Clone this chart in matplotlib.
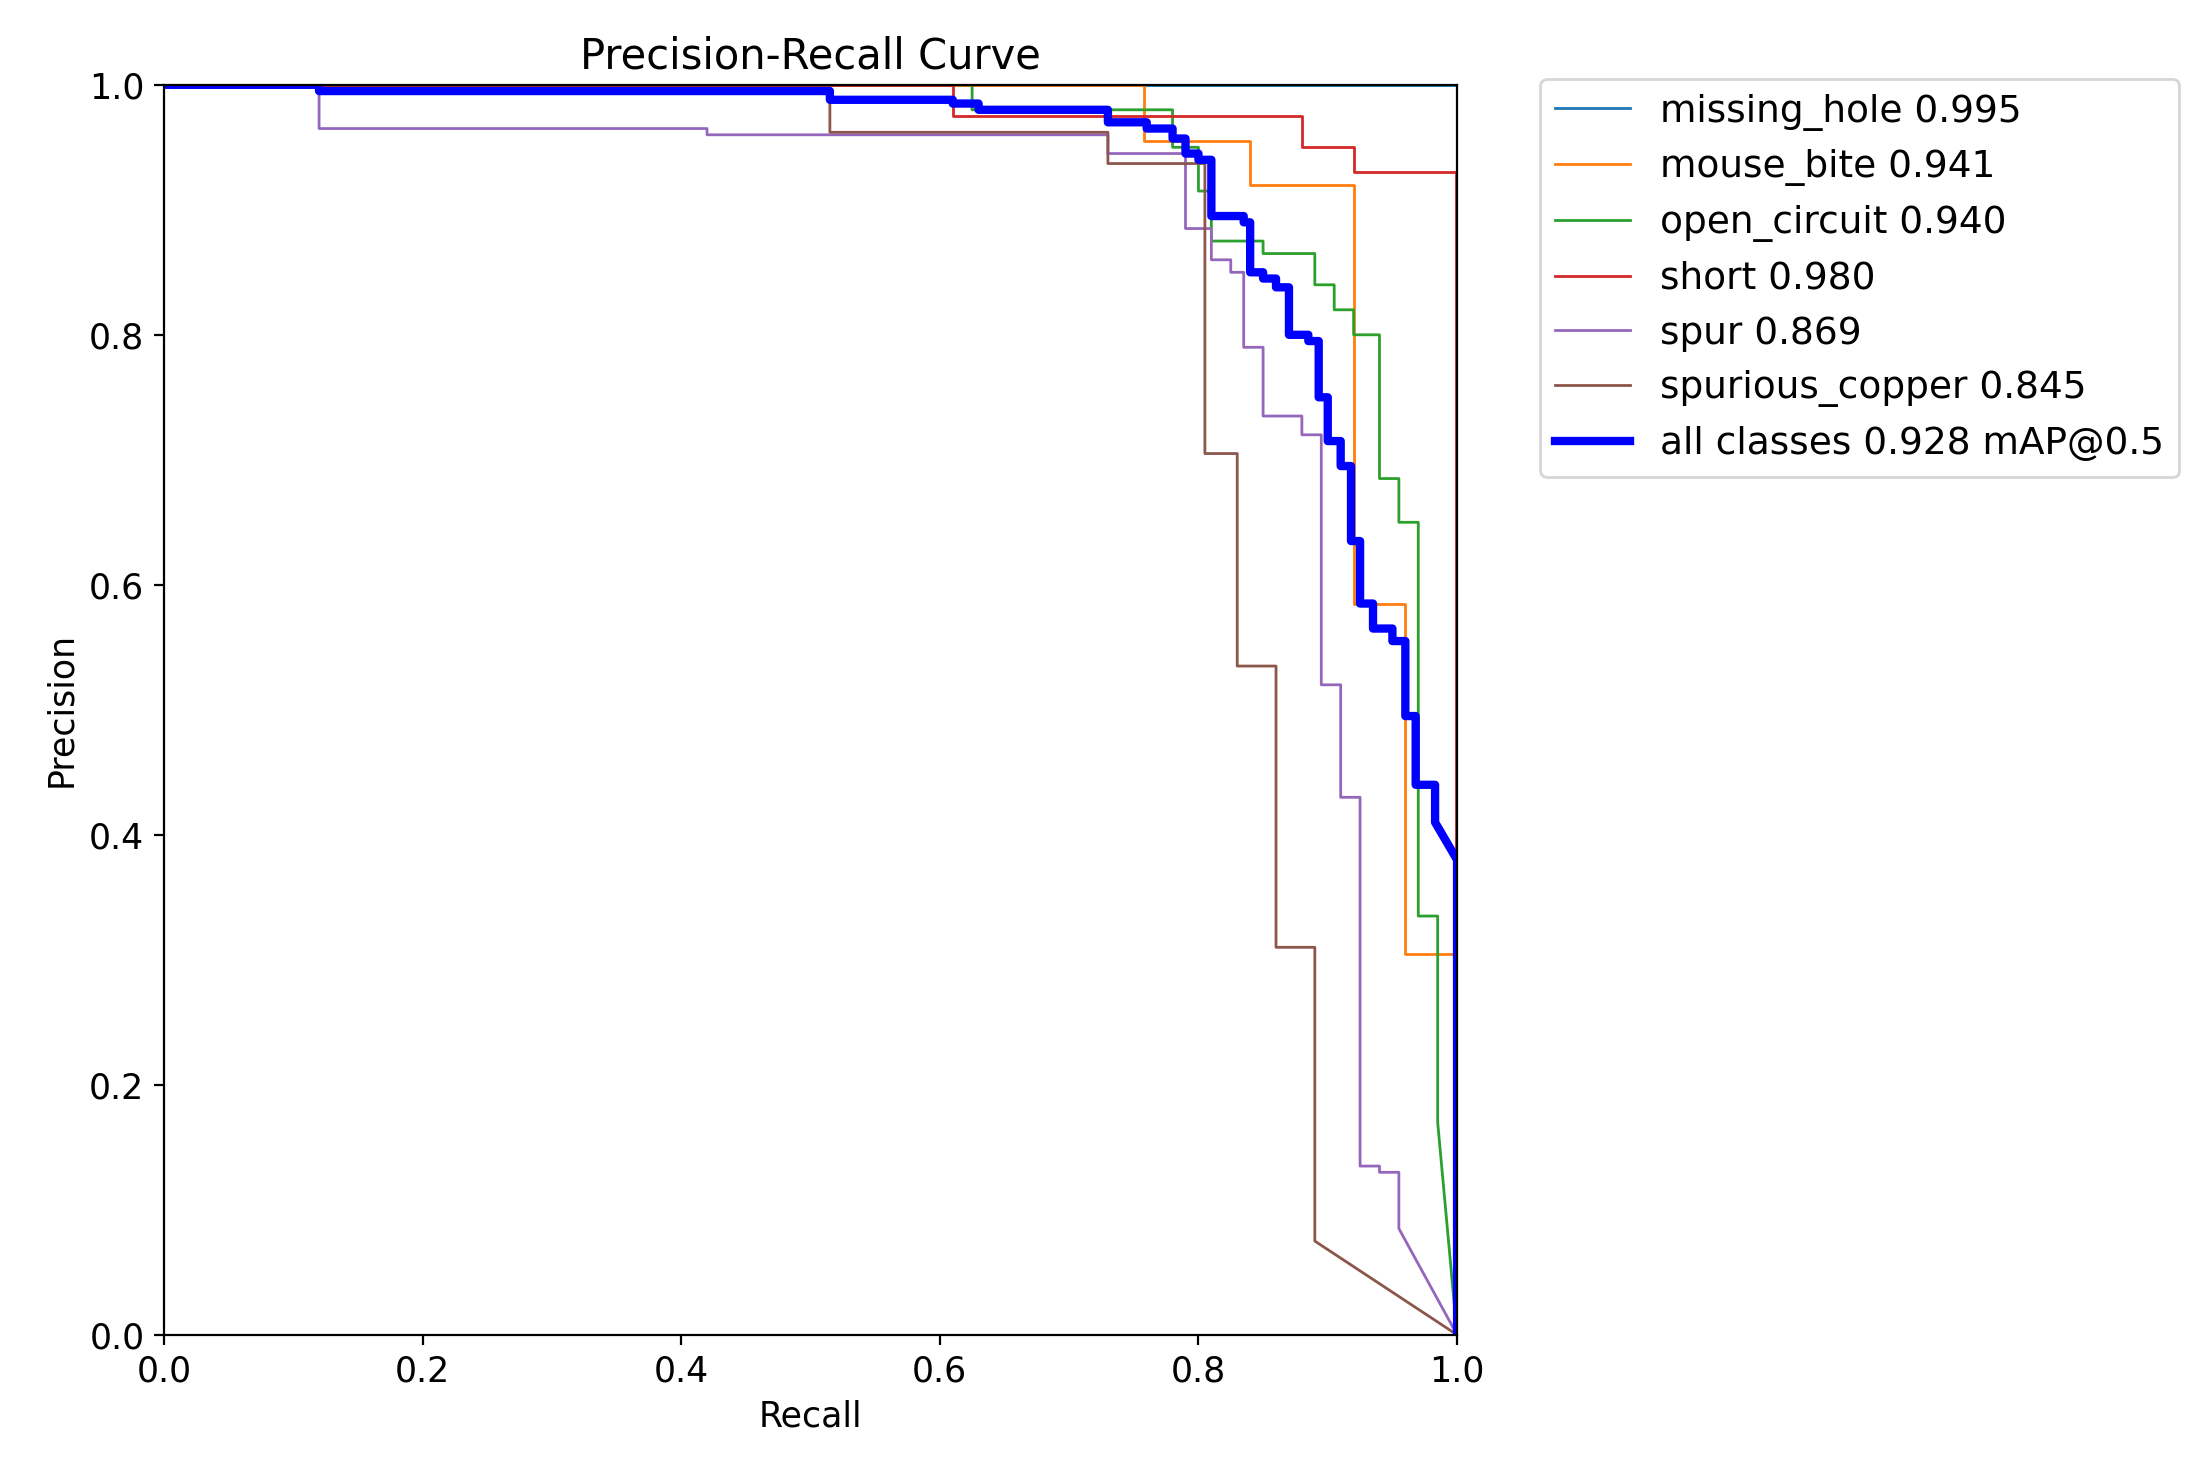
import matplotlib
matplotlib.use("Agg")
import matplotlib.pyplot as plt

# vertices (recall, precision)
missing_hole_r = [0.0, 1.0, 1.0, 1.0]
missing_hole_p = [1.0, 1.0, 0.93, 0.0]

mouse_bite_r = [0.0, 0.758, 0.758, 0.84, 0.84, 0.92, 0.92, 0.96, 0.96, 1.0, 1.0]
mouse_bite_p = [1.0, 1.0, 0.955, 0.955, 0.92, 0.92, 0.585, 0.585, 0.305, 0.305, 0.0]

open_circuit_r = [0.0, 0.625, 0.625, 0.78, 0.78, 0.8, 0.8, 0.81, 0.81, 0.85, 0.85, 0.89, 0.89,
                  0.905, 0.905, 0.92, 0.92, 0.94, 0.94, 0.955, 0.955, 0.97, 0.97, 0.985, 0.985, 1.0]
open_circuit_p = [1.0, 1.0, 0.98, 0.98, 0.95, 0.95, 0.915, 0.915, 0.875, 0.875, 0.865, 0.865, 0.84,
                  0.84, 0.82, 0.82, 0.80, 0.80, 0.685, 0.685, 0.65, 0.65, 0.335, 0.335, 0.17, 0.0]

short_r = [0.0, 0.61, 0.61, 0.88, 0.88, 0.92, 0.92, 0.999, 0.999]
short_p = [1.0, 1.0, 0.975, 0.975, 0.95, 0.95, 0.93, 0.93, 0.0]

spur_r = [0.0, 0.12, 0.12, 0.42, 0.42, 0.73, 0.73, 0.79, 0.79, 0.81, 0.81, 0.825, 0.825, 0.835,
          0.835, 0.85, 0.85, 0.88, 0.88, 0.895, 0.895, 0.91, 0.91, 0.925, 0.925, 0.94, 0.94,
          0.955, 0.955, 1.0]
spur_p = [1.0, 1.0, 0.965, 0.965, 0.96, 0.96, 0.945, 0.945, 0.885, 0.885, 0.86, 0.86, 0.85, 0.85,
          0.79, 0.79, 0.735, 0.735, 0.72, 0.72, 0.52, 0.52, 0.43, 0.43, 0.135, 0.135, 0.13,
          0.13, 0.085, 0.0]

copper_r = [0.0, 0.515, 0.515, 0.73, 0.73, 0.805, 0.805, 0.83, 0.83, 0.86, 0.86, 0.89, 0.89, 1.0]
copper_p = [1.0, 1.0, 0.962, 0.962, 0.937, 0.937, 0.705, 0.705, 0.535, 0.535, 0.31, 0.31, 0.075, 0.0]

all_r = [0.0, 0.12, 0.12, 0.515, 0.515, 0.61, 0.61, 0.63, 0.63, 0.73, 0.73, 0.76, 0.76, 0.78,
         0.78, 0.79, 0.79, 0.8, 0.8, 0.81, 0.81, 0.835, 0.835, 0.84, 0.84, 0.85, 0.85, 0.86,
         0.86, 0.87, 0.87, 0.885, 0.885, 0.893, 0.893, 0.9, 0.9, 0.91, 0.91, 0.918, 0.918, 0.925,
         0.925, 0.935, 0.935, 0.95, 0.95, 0.96, 0.96, 0.968, 0.968, 0.983, 0.983, 1.0, 1.0]
all_p = [1.0, 1.0, 0.995, 0.995, 0.988, 0.988, 0.985, 0.985, 0.98, 0.98, 0.97, 0.97, 0.965, 0.965,
         0.957, 0.957, 0.945, 0.945, 0.94, 0.94, 0.895, 0.895, 0.89, 0.89, 0.85, 0.85, 0.845, 0.845,
         0.838, 0.838, 0.80, 0.80, 0.795, 0.795, 0.75, 0.75, 0.715, 0.715, 0.695, 0.695, 0.635, 0.635,
         0.585, 0.585, 0.565, 0.565, 0.555, 0.555, 0.495, 0.495, 0.44, 0.44, 0.41, 0.38, 0.0]

series = [
    (missing_hole_r, missing_hole_p, "missing_hole 0.995"),
    (mouse_bite_r, mouse_bite_p, "mouse_bite 0.941"),
    (open_circuit_r, open_circuit_p, "open_circuit 0.940"),
    (short_r, short_p, "short 0.980"),
    (spur_r, spur_p, "spur 0.869"),
    (copper_r, copper_p, "spurious_copper 0.845"),
]

fig = plt.figure(figsize=(11.015, 7.31), dpi=200)
ax = fig.add_axes([0.0744, 0.087, 0.587, 0.855])

for r, p, label in series:
    ax.plot(r, p, linewidth=1, label=label)
ax.plot(all_r, all_p, linewidth=3, color='blue', label='all classes 0.928 mAP@0.5')

ax.set_xlim(0, 1)
ax.set_ylim(0, 1)
ax.set_xlabel('Recall', fontsize=12.5)
ax.set_ylabel('Precision', fontsize=12.5)
ax.set_title('Precision-Recall Curve', fontsize=15)
ax.tick_params(labelsize=12.5)
ax.legend(bbox_to_anchor=(1.05, 1.02), loc='upper left', fontsize=13.5)
plt.savefig('out.png')
